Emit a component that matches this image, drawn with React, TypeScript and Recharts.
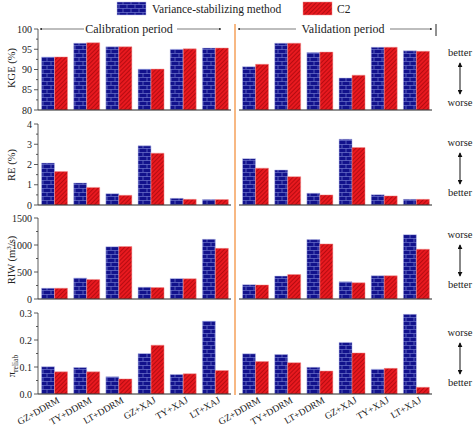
import React from "react";
import { BarChart, Bar, XAxis, YAxis } from "recharts";

const models = ["GZ+DDRM", "TY+DDRM", "LT+DDRM", "GZ+XAJ", "TY+XAJ", "LT+XAJ"];

// KGE (%)
const kgeCalVs = [93.1, 96.5, 95.6, 90.1, 95.0, 95.3];
const kgeCalC2 = [93.1, 96.6, 95.6, 90.1, 95.1, 95.3];
const kgeValVs = [90.7, 96.5, 94.2, 87.9, 95.5, 94.6];
const kgeValC2 = [91.3, 96.5, 94.3, 88.6, 95.5, 94.5];

// RE (%)
const reCalVs = [2.07, 1.09, 0.56, 2.92, 0.33, 0.27];
const reCalC2 = [1.65, 0.87, 0.48, 2.56, 0.28, 0.27];
const reValVs = [2.29, 1.73, 0.58, 3.25, 0.51, 0.28];
const reValC2 = [1.82, 1.4, 0.5, 2.84, 0.45, 0.28];

// RIW (m3/s)
const riwCalVs = [200, 390, 969, 219, 381, 1106];
const riwCalC2 = [200, 362, 972, 212, 375, 938];
const riwValVs = [264, 424, 1100, 319, 430, 1192];
const riwValC2 = [260, 454, 1020, 300, 430, 922];

// pi reliab
const piCalVs = [0.101, 0.098, 0.064, 0.15, 0.072, 0.27];
const piCalC2 = [0.082, 0.082, 0.056, 0.181, 0.075, 0.087];
const piValVs = [0.149, 0.146, 0.099, 0.191, 0.092, 0.295];
const piValC2 = [0.12, 0.116, 0.085, 0.152, 0.095, 0.025];

const kgeTicks = [80, 82.5, 85, 87.5, 90, 92.5, 95, 97.5, 100];
const kgeMajor = [80, 85, 90, 95, 100];
const reTicks = [0, 0.5, 1, 1.5, 2, 2.5, 3, 3.5, 4];
const reMajor = [0, 1, 2, 3, 4];
const riwTicks = [0, 250, 500, 750, 1000, 1250, 1500];
const riwMajor = [0, 500, 1000, 1500];
const piTicks = [0, 0.05, 0.1, 0.15, 0.2, 0.25, 0.3];
const piMajor = [0, 0.1, 0.2, 0.3];

const FONT = "'Liberation Serif', 'Times New Roman', serif";
const PLOT_LEFT = 38;
const PLOT_H = 81;
const MT = 8;

const yTick = (majors: number[], fmt: (v: number) => string) => (p: any) => {
  const v = p.payload.value;
  const major = majors.some((m) => Math.abs(m - v) < 1e-9);
  const y = p.y;
  return (
    <g>
      <line x1={PLOT_LEFT - (major ? 4 : 2)} x2={PLOT_LEFT} y1={y} y2={y} stroke="#333" strokeWidth={0.8} />
      {major && (
        <text x={PLOT_LEFT - 6} y={y} dy="0.35em" textAnchor="end" fontSize={10} fontFamily={FONT} fill="#222">
          {fmt(v)}
        </text>
      )}
    </g>
  );
};

const xTick = (p: any) => {
  const x = p.x + 6;
  const y = p.y + 8;
  return (
    <text x={x} y={y} transform={`rotate(-30, ${x}, ${y})`} textAnchor="end" fontSize={9.5} fontFamily={FONT} fill="#222">
      {p.payload.value}
    </text>
  );
};

type PanelProps = {
  vs: number[];
  c2: number[];
  side: "left" | "right";
  top: number;
  domain: [number, number];
  ticks: number[];
  majors: number[];
  fmt: (v: number) => string;
  bottom?: boolean;
};

function Panel({ vs, c2, side, top, domain, ticks, majors, fmt, bottom }: PanelProps) {
  const data = models.map((m, i) => ({ name: m, vs: vs[i], c2: c2[i] }));
  const isLeft = side === "left";
  const xh = bottom ? 32 : 1;
  return (
    <div style={{ position: "absolute", left: isLeft ? 0 : 239, top: top - MT }}>
      <BarChart
        width={isLeft ? 231 : 193}
        height={MT + PLOT_H + xh}
        data={data}
        margin={{ top: MT, right: 0, bottom: 0, left: isLeft ? 8 : 0 }}
        barCategoryGap="11%"
        barGap={0}
      >
        <XAxis
          dataKey="name"
          height={xh}
          axisLine={{ stroke: "#222", strokeWidth: 1 }}
          tickLine={false}
          tickSize={0}
          tickMargin={0}
          interval={0}
          tick={bottom ? xTick : false}
        />
        <YAxis
          hide={!isLeft}
          width={30}
          domain={domain}
          ticks={ticks}
          interval={0}
          allowDataOverflow
          axisLine={{ stroke: "#333", strokeWidth: 0.8 }}
          tickLine={false}
          tick={yTick(majors, fmt)}
        />
        <Bar dataKey="vs" fill="url(#brick)" stroke="#b8bde8" strokeWidth={0.5} isAnimationActive={false} />
        <Bar dataKey="c2" fill="url(#hatch)" stroke="#f39090" strokeWidth={0.5} isAnimationActive={false} />
      </BarChart>
    </div>
  );
}

const intFmt = (v: number) => String(v);
const piFmt = (v: number) => v.toFixed(1);

function BetterWorse({ top, first, second }: { top: number; first: string; second: string }) {
  return (
    <g fontFamily={FONT} fontSize={10.5} fill="#222" textAnchor="middle">
      <text x={460} y={top}>{first}</text>
      <line x1={460} x2={460} y1={top + 7} y2={top + 38} stroke="#111" strokeWidth={1} markerStart="url(#arrow)" markerEnd="url(#arrow)" />
      <text x={460} y={top + 50}>{second}</text>
    </g>
  );
}

export default function App() {
  return (
    <div style={{ position: "relative", width: 474, height: 426, background: "#fff" }}>
      <style>{"body{margin:0} .recharts-surface{overflow:visible} .recharts-wrapper{overflow:visible} svg text{font-family:'Liberation Serif','Times New Roman',serif}"}</style>
      <svg width={0} height={0} style={{ position: "absolute" }}>
        <defs>
          <pattern id="brick" patternUnits="userSpaceOnUse" width="8" height="8">
            <rect width="8" height="8" fill="#12128c" />
            <path d="M0 0.5H8M0 4.5H8M3 0.5V4.5M7 4.5V8.5" stroke="#7f88d8" strokeWidth="0.6" fill="none" />
          </pattern>
          <pattern id="hatch" patternUnits="userSpaceOnUse" width="3" height="3" patternTransform="rotate(45)">
            <rect width="3" height="3" fill="#e8191f" />
            <line x1="0.5" y1="0" x2="0.5" y2="3" stroke="#b00a10" strokeWidth="0.9" />
          </pattern>
          <marker id="arrow" viewBox="0 0 6 6" refX="5" refY="3" markerWidth="5" markerHeight="5" orient="auto-start-reverse">
            <path d="M0,0 L6,3 L0,6 z" fill="#111" />
          </marker>
          <marker id="arrowSm" viewBox="0 0 6 6" refX="5" refY="3" markerWidth="4" markerHeight="4" orient="auto-start-reverse">
            <path d="M0,0 L6,3 L0,6 z" fill="#333" />
          </marker>
        </defs>
      </svg>

      <Panel vs={kgeCalVs} c2={kgeCalC2} side="left" top={29} domain={[80, 100]} ticks={kgeTicks} majors={kgeMajor} fmt={intFmt} />
      <Panel vs={kgeValVs} c2={kgeValC2} side="right" top={29} domain={[80, 100]} ticks={kgeTicks} majors={kgeMajor} fmt={intFmt} />
      <Panel vs={reCalVs} c2={reCalC2} side="left" top={124} domain={[0, 4]} ticks={reTicks} majors={reMajor} fmt={intFmt} />
      <Panel vs={reValVs} c2={reValC2} side="right" top={124} domain={[0, 4]} ticks={reTicks} majors={reMajor} fmt={intFmt} />
      <Panel vs={riwCalVs} c2={riwCalC2} side="left" top={218} domain={[0, 1500]} ticks={riwTicks} majors={riwMajor} fmt={intFmt} />
      <Panel vs={riwValVs} c2={riwValC2} side="right" top={218} domain={[0, 1500]} ticks={riwTicks} majors={riwMajor} fmt={intFmt} />
      <Panel vs={piCalVs} c2={piCalC2} side="left" top={313} domain={[0, 0.3]} ticks={piTicks} majors={piMajor} fmt={piFmt} bottom />
      <Panel vs={piValVs} c2={piValC2} side="right" top={313} domain={[0, 0.3]} ticks={piTicks} majors={piMajor} fmt={piFmt} bottom />

      <svg width={474} height={426} style={{ position: "absolute", left: 0, top: 0, pointerEvents: "none" }}>
        {/* legend */}
        <rect x={117} y={2} width={29} height={13} fill="url(#brick)" stroke="#b8bde8" strokeWidth={0.5} />
        <text x={152} y={13} fontFamily={FONT} fontSize={11.5} fill="#222">Variance-stabilizing method</text>
        <rect x={303} y={2} width={29} height={13} fill="url(#hatch)" stroke="#f39090" strokeWidth={0.5} />
        <text x={337} y={13} fontFamily={FONT} fontSize={11.5} fill="#222">C2</text>

        {/* divider */}
        <line x1={235} x2={235} y1={24} y2={395} stroke="#f5a05a" strokeWidth={1.5} />

        {/* period headers */}
        <line x1={40} x2={84} y1={29} y2={29} stroke="#444" strokeWidth={0.7} markerStart="url(#arrowSm)" />
        <text x={129} y={33} textAnchor="middle" fontFamily={FONT} fontSize={12} fill="#222">Calibration period</text>
        <line x1={177} x2={221} y1={29} y2={29} stroke="#444" strokeWidth={0.7} markerEnd="url(#arrowSm)" />
        <line x1={238} x2={296} y1={29} y2={29} stroke="#444" strokeWidth={0.7} markerStart="url(#arrowSm)" />
        <text x={343} y={33} textAnchor="middle" fontFamily={FONT} fontSize={12} fill="#222">Validation period</text>
        <line x1={390} x2={432} y1={29} y2={29} stroke="#444" strokeWidth={0.7} markerEnd="url(#arrowSm)" />
        <line x1={436} x2={436} y1={24} y2={36} stroke="#222" strokeWidth={1} />

        {/* y labels */}
        <g fontFamily={FONT} fontSize={10.5} fill="#222" textAnchor="middle">
          <text transform="translate(15,68) rotate(-90)">KGE (%)</text>
          <text transform="translate(15,165) rotate(-90)">RE (%)</text>
          <text transform="translate(15,260) rotate(-90)">
            RIW (m<tspan fontSize={7} dy={-4}>3</tspan>
            <tspan dy={4}>/s)</tspan>
          </text>
          <text transform="translate(15,366) rotate(-90)">
            π<tspan fontSize={7.5} dy={3}>reliab</tspan>
          </text>
        </g>

        {/* better / worse */}
        <BetterWorse top={56} first="better" second="worse" />
        <BetterWorse top={146} first="worse" second="better" />
        <BetterWorse top={238} first="worse" second="better" />
        <BetterWorse top={336} first="worse" second="better" />
      </svg>
    </div>
  );
}
